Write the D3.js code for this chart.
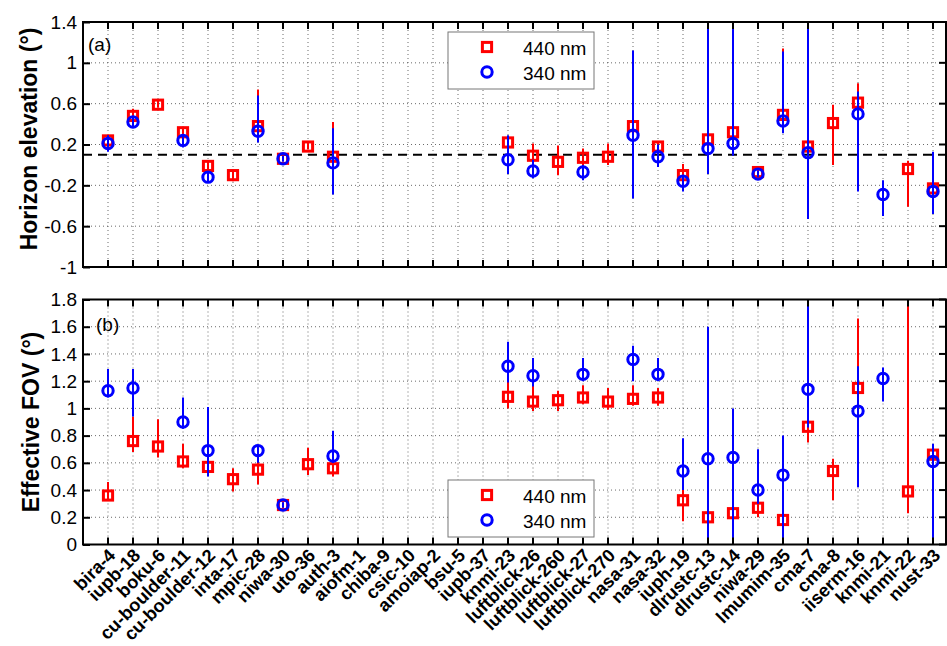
<!DOCTYPE html>
<html><head><meta charset="utf-8">
<script src="https://cdn.jsdelivr.net/npm/d3@7"></script>
<style>body{margin:0;background:#fff}svg{display:block}</style>
</head><body>
<svg id="c" width="947" height="646"></svg>
<script>
const categories = ["bira-4","iupb-18","boku-6","cu-boulder-11","cu-boulder-12","inta-17","mpic-28","niwa-30","uto-36","auth-3","aiofm-1","chiba-9","csic-10","amoiap-2","bsu-5","iupb-37","knmi-23","luftblick-26","luftblick-260","luftblick-27","luftblick-270","nasa-31","nasa-32","iuph-19","dlrustc-13","dlrustc-14","niwa-29","lmumim-35","cma-7","cma-8","iiserm-16","knmi-21","knmi-22","nust-33"];

// (a) Horizon elevation, 440 nm: value, lower, upper
const elev440 = [0.24,0.48,0.59,0.32,-0.01,-0.10,0.38,0.06,0.18,0.08,null,null,null,null,null,null,0.22,0.09,0.03,0.07,0.08,0.38,0.18,-0.10,0.25,0.32,-0.07,0.49,0.18,0.41,0.61,null,-0.04,-0.23];
const elev440Lo = [0.20,0.43,0.56,0.27,-0.05,-0.16,0.30,0.04,0.15,0.05,null,null,null,null,null,null,0.17,0.03,-0.10,0.00,0.00,0.30,0.14,-0.16,0.18,0.25,-0.10,0.40,0.12,0.00,0.50,null,-0.41,-0.46];
const elev440Hi = [0.27,0.55,0.63,0.36,0.03,-0.06,0.74,0.08,0.22,0.42,null,null,null,null,null,null,0.26,0.21,0.19,0.16,0.21,0.45,0.22,0.01,0.30,0.38,-0.04,1.14,0.24,0.59,0.80,null,0.04,-0.20];
// (a) Horizon elevation, 340 nm
const elev340 = [0.21,0.42,null,0.24,-0.12,null,0.33,0.06,null,0.02,null,null,null,null,null,null,0.05,-0.06,null,-0.07,null,0.29,0.08,-0.16,0.16,0.21,-0.09,0.43,0.12,null,0.50,-0.29,null,-0.26];
const elev340Lo = [0.13,0.38,null,0.17,-0.16,null,0.22,0.03,null,-0.29,null,null,null,null,null,null,-0.09,-0.13,null,-0.15,null,-0.33,-0.02,-0.26,-0.09,0.09,-0.12,0.31,-0.53,null,-0.26,-0.50,null,-0.48];
const elev340Hi = [0.29,0.46,null,0.29,-0.08,null,0.68,0.09,null,0.36,null,null,null,null,null,null,0.29,0.05,null,0.00,null,1.12,0.20,-0.10,1.50,1.50,-0.06,1.11,1.50,null,0.72,-0.15,null,0.13];

// (b) Effective FOV, 440 nm
const fov440 = [0.36,0.76,0.72,0.61,0.57,0.48,0.55,0.29,0.59,0.56,null,null,null,null,null,null,1.085,1.05,1.06,1.08,1.05,1.07,1.08,0.325,0.20,0.23,0.27,0.18,0.865,0.54,1.15,null,0.39,0.66];
const fov440Lo = [0.33,0.68,0.64,0.56,0.52,0.39,0.44,0.27,0.51,0.50,null,null,null,null,null,null,1.00,0.98,0.98,1.03,0.99,1.02,1.02,0.17,0.00,0.00,0.20,0.00,0.75,0.325,1.05,null,0.23,0.05];
const fov440Hi = [0.46,0.94,0.92,0.74,0.62,0.56,0.62,0.31,0.71,0.62,null,null,null,null,null,null,1.23,1.17,1.13,1.17,1.15,1.17,1.15,0.45,0.30,0.30,0.32,0.24,1.00,0.63,1.66,null,1.90,0.70];
// (b) Effective FOV, 340 nm
const fov340 = [1.13,1.15,null,0.90,0.69,null,0.69,0.29,null,0.65,null,null,null,null,null,null,1.31,1.24,null,1.25,null,1.36,1.25,0.54,0.63,0.64,0.40,0.51,1.14,null,0.98,1.22,null,0.61];
const fov340Lo = [1.08,0.94,null,0.85,0.50,null,0.60,0.27,null,0.60,null,null,null,null,null,null,1.19,1.16,null,1.20,null,1.20,1.20,0.40,0.00,0.00,0.30,0.00,0.86,null,0.42,1.05,null,0.03];
const fov340Hi = [1.29,1.29,null,1.08,1.01,null,0.72,0.31,null,0.835,null,null,null,null,null,null,1.49,1.37,null,1.37,null,1.46,1.37,0.78,1.60,1.00,0.70,0.80,1.76,null,1.31,1.30,null,0.74];

const elevTicks = [-1,-0.6,-0.2,0.2,0.6,1,1.4];
const fovTicks = [0,0.2,0.4,0.6,0.8,1,1.2,1.4,1.6,1.8];
const refLine = 0.1;
const legendLabels = ["440 nm","340 nm"];
const panelLabels = ["(a)","(b)"];
const yTitles = ["Horizon elevation (\u00b0)","Effective FOV (\u00b0)"];

const RED = "#ff0000", BLUE = "#0000ff";
const FONT = "'Liberation Sans', Arial, Helvetica, sans-serif";
const svg = d3.select("#c");

const L = 83, R = 946;
const x = d3.scaleLinear().domain([0, 34.52]).range([L, R]);

const panels = [
  {top:22, bottom:267, domain:[-1,1.4], ticks:elevTicks,
   s440:[elev440,elev440Lo,elev440Hi], s340:[elev340,elev340Lo,elev340Hi],
   ref:refLine, legendY:32, labelPos:[88,51], title:yTitles[0], titleX:37, titleY:139, label:panelLabels[0]},
  {top:299.5, bottom:544.5, domain:[0,1.8], ticks:fovTicks,
   s440:[fov440,fov440Lo,fov440Hi], s340:[fov340,fov340Lo,fov340Hi],
   ref:null, legendY:480, labelPos:[96,331], title:yTitles[1], titleX:39, titleY:422, label:panelLabels[1]}
];

const fmt = v => (Math.abs(v) < 1e-9 ? "0" : String(+v.toFixed(1)));

panels.forEach((p, pi) => {
  const y = d3.scaleLinear().domain(p.domain).range([p.bottom, p.top]);
  const g = svg.append("g");
  const clipId = "clip" + pi;
  svg.append("clipPath").attr("id", clipId).append("rect")
    .attr("x", L).attr("y", p.top).attr("width", R - L).attr("height", p.bottom - p.top);

  // grid
  const grid = g.append("g").attr("stroke", "#444").attr("stroke-width", 0.8)
    .attr("stroke-dasharray", "1,3");
  categories.forEach((c, i) => {
    grid.append("line").attr("x1", x(i+1)).attr("x2", x(i+1))
      .attr("y1", p.top).attr("y2", p.bottom);
  });
  p.ticks.forEach(t => {
    if (t === p.domain[0] || t === p.domain[1]) return;
    grid.append("line").attr("x1", L).attr("x2", R).attr("y1", y(t)).attr("y2", y(t));
  });

  // reference line
  if (p.ref !== null) {
    g.append("line").attr("x1", L).attr("x2", R).attr("y1", y(p.ref)).attr("y2", y(p.ref))
      .attr("stroke", "#000").attr("stroke-width", 2).attr("stroke-dasharray", "9,6");
  }

  const data = categories.map((c, i) => ({i: i+1,
    v4: p.s440[0][i], l4: p.s440[1][i], h4: p.s440[2][i],
    v3: p.s340[0][i], l3: p.s340[1][i], h3: p.s340[2][i]}));

  const marks = g.append("g").attr("clip-path", `url(#${clipId})`);
  // 440 series: error bars then markers
  marks.selectAll(".e4").data(data.filter(d => d.v4 !== null)).join("line")
    .attr("x1", d => x(d.i)).attr("x2", d => x(d.i))
    .attr("y1", d => y(d.l4)).attr("y2", d => y(d.h4))
    .attr("stroke", RED).attr("stroke-width", 2);
  marks.selectAll(".m4").data(data.filter(d => d.v4 !== null)).join("rect")
    .attr("x", d => x(d.i) - 4.6).attr("y", d => y(d.v4) - 4.6)
    .attr("width", 9.2).attr("height", 9.2)
    .attr("fill", "none").attr("stroke", RED).attr("stroke-width", 3);
  // 340 series
  marks.selectAll(".e3").data(data.filter(d => d.v3 !== null)).join("line")
    .attr("x1", d => x(d.i)).attr("x2", d => x(d.i))
    .attr("y1", d => y(d.l3)).attr("y2", d => y(d.h3))
    .attr("stroke", BLUE).attr("stroke-width", 2);
  marks.selectAll(".m3").data(data.filter(d => d.v3 !== null)).join("circle")
    .attr("cx", d => x(d.i)).attr("cy", d => y(d.v3)).attr("r", 5.2)
    .attr("fill", "none").attr("stroke", BLUE).attr("stroke-width", 3);

  // axes frame
  g.append("rect").attr("x", L).attr("y", p.top).attr("width", R - L).attr("height", p.bottom - p.top)
    .attr("fill", "none").attr("stroke", "#000").attr("stroke-width", 2);

  // x ticks inward, top & bottom
  const xt = g.append("g").attr("stroke", "#000").attr("stroke-width", 2);
  categories.forEach((c, i) => {
    xt.append("line").attr("x1", x(i+1)).attr("x2", x(i+1)).attr("y1", p.bottom).attr("y2", p.bottom - 7);
    xt.append("line").attr("x1", x(i+1)).attr("x2", x(i+1)).attr("y1", p.top).attr("y2", p.top + 7);
  });
  // y axis with d3 axis for labels
  const yAxis = d3.axisLeft(y).tickValues(p.ticks).tickFormat(fmt).tickSizeInner(-7).tickSizeOuter(0).tickPadding(6);
  const ya = g.append("g").attr("transform", `translate(${L},0)`).call(yAxis);
  ya.select(".domain").remove();
  ya.selectAll(".tick line").attr("stroke", "#000").attr("stroke-width", 2);
  ya.selectAll(".tick text").attr("font-family", FONT).attr("font-size", 19).attr("fill", "#000");
  // right side ticks
  p.ticks.forEach(t => {
    g.append("line").attr("x1", R).attr("x2", R - 7).attr("y1", y(t)).attr("y2", y(t))
      .attr("stroke", "#000").attr("stroke-width", 2);
  });

  // y title
  g.append("text").attr("transform", `translate(${p.titleX},${p.titleY}) rotate(-90)`)
    .attr("text-anchor", "middle").attr("font-family", FONT).attr("font-weight", "bold")
    .attr("font-size", 23).text(p.title);

  // panel label
  g.append("text").attr("x", p.labelPos[0]).attr("y", p.labelPos[1])
    .attr("font-family", FONT).attr("font-size", 19).text(p.label);

  // legend
  const lg = g.append("g").attr("transform", `translate(448,${p.legendY})`);
  lg.append("rect").attr("width", 146).attr("height", 57).attr("fill", "#fff")
    .attr("stroke", "#777").attr("stroke-width", 1);
  lg.append("rect").attr("x", 39 - 4.6).attr("y", 15 - 4.6).attr("width", 9.2).attr("height", 9.2)
    .attr("fill", "none").attr("stroke", RED).attr("stroke-width", 3);
  lg.append("circle").attr("cx", 39).attr("cy", 40).attr("r", 5.2)
    .attr("fill", "none").attr("stroke", BLUE).attr("stroke-width", 3);
  lg.append("text").attr("x", 75).attr("y", 23).attr("font-family", FONT).attr("font-size", 19).text(legendLabels[0]);
  lg.append("text").attr("x", 75).attr("y", 48).attr("font-family", FONT).attr("font-size", 19).text(legendLabels[1]);
});

// category labels under bottom panel
const cl = svg.append("g");
categories.forEach((c, i) => {
  cl.append("text")
    .attr("transform", `translate(${x(i+1) + 4},${552}) rotate(-45)`)
    .attr("text-anchor", "end").attr("dy", "0.35em")
    .attr("font-family", FONT).attr("font-weight", "bold").attr("font-size", 18.2)
    .text(c);
});
</script>
</body></html>
